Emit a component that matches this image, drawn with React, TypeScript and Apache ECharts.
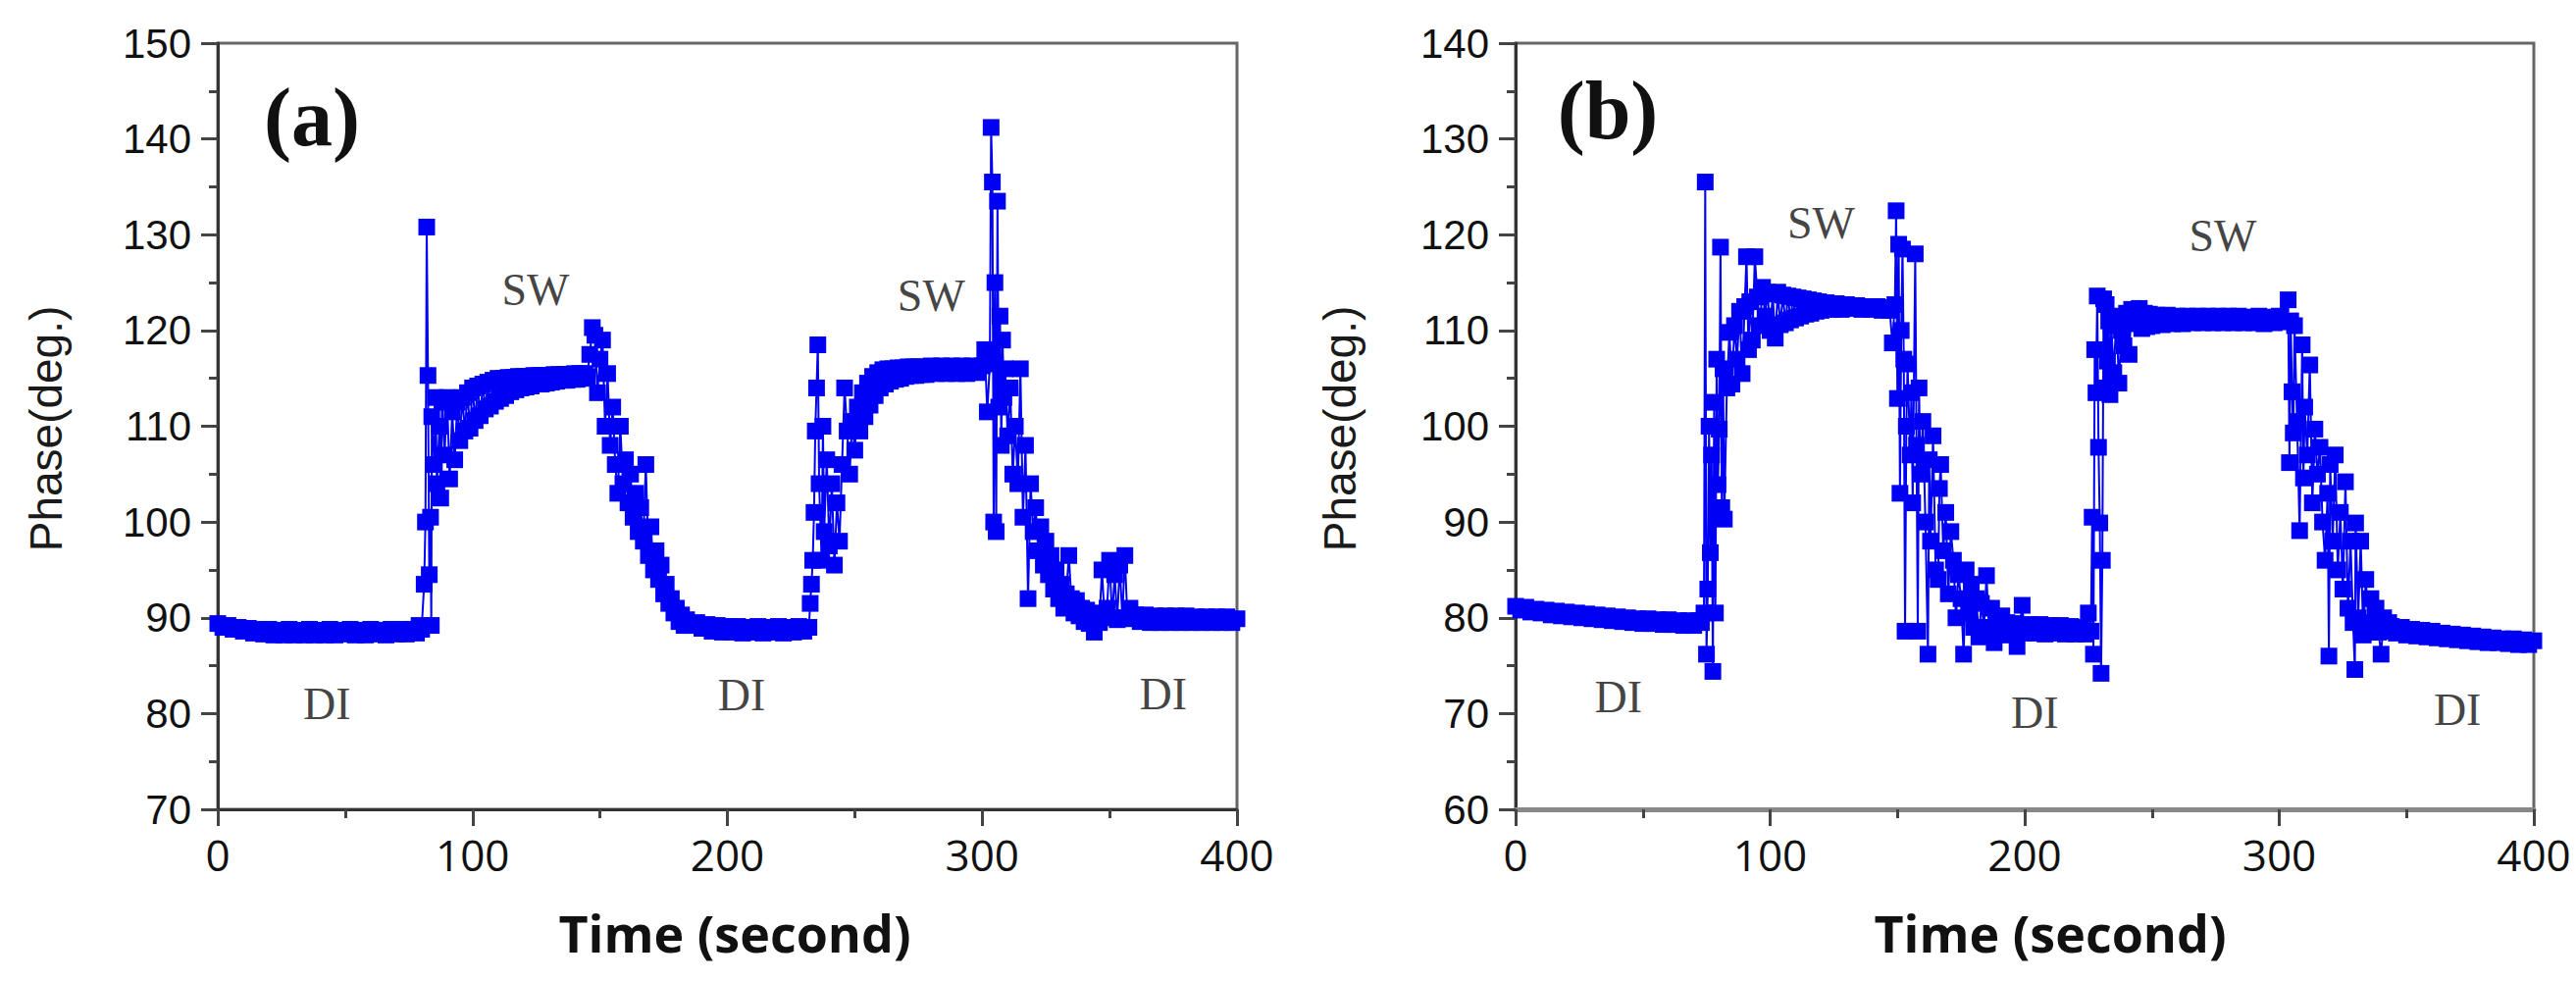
import React, { useEffect, useRef } from "react";
import * as echarts from "echarts";

// ---------------- Panel (a) data: [time (s), phase (deg.)] ----------------
const A_DI1: number[][] = [
  [0, 89.4], [2, 89.0], [4, 89.2], [6, 88.8], [8, 89.0], [10, 88.6], [12, 88.9], [14, 88.4], [16, 88.8], [18, 88.3],
  [20, 88.8], [22, 88.2], [24, 88.7], [26, 88.2], [28, 88.8], [30, 88.2], [32, 88.7], [34, 88.2], [36, 88.8], [38, 88.2],
  [40, 88.7], [42, 88.2], [44, 88.8], [46, 88.2], [48, 88.7], [50, 88.3], [52, 88.8], [54, 88.2], [56, 88.7], [58, 88.2],
  [60, 88.8], [62, 88.3], [64, 88.7], [66, 88.2], [68, 88.8], [70, 88.3], [72, 88.8], [74, 88.3], [76, 88.8], [78, 88.4],
  [79, 89.2],
];
const A_SW1: number[][] = [
  [80, 88.8], [81, 93.5], [81.5, 100], [82, 130.8], [82.5, 115.3], [83, 94.5], [83.5, 100.5], [83.8, 89.2], [84, 111],
  [85, 106], [85.5, 113], [86, 104], [87, 110], [87.5, 102.5], [88, 112.5], [89, 107], [90, 113], [91, 104.5],
  [92, 111.5], [93, 106.5], [94, 112.5], [95, 108.5], [96, 113], [97, 109.5],
  [98, 113.5], [99, 109.8], [100, 114], [101, 110.6], [102, 114.2], [103, 111.1], [104, 114.4], [105, 111.8],
  [106, 114.6], [107, 112.1], [108, 114.8], [109, 112.6], [110, 115], [111, 112.9], [112, 115], [113, 113.2],
  [114, 115.1], [115, 113.6], [116, 115.1], [117, 113.8], [118, 115.2], [119, 114], [120, 115.2], [121, 114.1],
  [122, 115.2], [123, 114.2], [124, 115.3], [125, 114.4], [126, 115.3], [127, 114.4], [128, 115.3], [129, 114.5],
  [130, 115.3], [131, 114.6], [132, 115.4], [133, 114.7], [134, 115.4], [135, 114.8], [136, 115.4], [137, 114.8],
  [138, 115.4], [139, 114.9], [140, 115.5], [141, 114.9], [142, 115.5], [143, 115], [144, 115.5], [145, 115.2],
  [146, 117.5], [147, 120.3], [148, 119.5], [149, 113.5], [150, 117], [151, 119], [152, 110], [153, 115.5], [154, 108],
  [155, 112], [156, 106], [157, 103], [158, 110], [159, 104], [160, 106.5], [161, 102], [162, 105], [163, 100.5],
  [164, 103], [165, 99], [166, 101.5], [167, 98], [168, 106], [169, 96.5], [170, 99.5], [171, 95], [172, 97], [173, 94],
  [174, 95.5], [175, 92.5], [176, 93.5], [177, 91.5], [178, 92], [179, 90.5], [180, 91], [181, 89.6], [182, 90.3],
  [183, 89.2], [184, 89.8], [186, 89.2], [188, 89.5], [190, 88.9],
];
const A_DI2: number[][] = [
  [192, 89.3], [194, 88.6], [196, 89.2], [198, 88.5], [200, 89.1], [202, 88.5], [204, 89.1], [206, 88.4], [208, 89.0],
  [210, 88.5], [212, 89.1], [214, 88.4], [216, 89.0], [218, 88.5], [220, 89.1], [222, 88.4], [224, 89.0], [226, 88.5],
  [228, 89.1], [230, 88.6],
];
const A_SW2: number[][] = [
  [232, 89.0], [232.5, 91.5], [233, 93.5], [233.5, 96], [234, 101], [234.5, 109.5], [235, 114], [235.5, 118.5],
  [236, 104], [237, 96], [237.5, 110], [238, 99], [239, 106.5], [240, 97.5], [241, 104], [242, 95.5], [243, 102],
  [244, 98], [245, 106], [246, 114], [247, 109.5], [248, 105], [249, 110.5], [250, 107.5], [251, 112], [252, 109.5],
  [253, 113.5], [254, 111], [255, 114.5], [256, 112.2], [257, 115.2], [258, 113.2], [259, 115.6], [260, 114],
  [261, 115.9], [262, 114.4], [263, 116], [264, 114.7], [265, 116], [266, 114.9], [267, 116.1], [268, 115],
  [269, 116.1], [270, 115.2], [271, 116.2], [272, 115.3], [273, 116.2], [274, 115.3], [275, 116.2], [276, 115.4],
  [277, 116.2], [278, 115.4], [280, 116.3], [282, 115.5], [284, 116.3], [286, 115.5], [288, 116.3], [290, 115.5],
  [292, 116.3], [294, 115.5], [296, 116.3], [298, 115.6], [300, 116.3], [301, 118],
  [302, 111.5], [303, 116.5], [303.5, 141.2], [304, 135.5], [304.5, 100], [305, 125], [305.5, 99], [306, 133.5],
  [306.5, 112], [307, 121.5], [307.5, 108], [308, 119], [308.5, 113], [309, 116], [310, 109], [311, 114], [312, 105],
  [313, 110], [314, 104], [315, 116], [316, 100.5], [317, 108], [318, 92], [319, 104], [320, 99], [321, 101.5],
  [322, 97], [323, 99.5], [324, 95.5], [325, 98], [326, 94.5], [327, 96.5], [328, 93], [329, 95], [330, 92],
  [331, 93.5], [332, 91], [333, 92.5], [334, 96.5], [335, 92], [336, 90.5], [337, 91.8], [338, 90.2], [339, 91],
  [340, 89.6], [341, 90.8], [342, 89.4], [343, 90.4], [344, 88.5], [345, 90.5], [346, 89.5], [347, 95], [348, 90.2],
  [349, 91], [350, 96], [351, 90], [352, 94.5], [353, 89.8], [354, 95.5], [355, 90], [356, 96.5], [357, 89.9],
  [358, 91],
];
const A_DI3: number[][] = [
  [360, 90.3], [362, 89.6], [364, 90.3], [366, 89.5], [368, 90.2], [370, 89.5], [372, 90.2], [374, 89.5], [376, 90.2],
  [378, 89.5], [380, 90.2], [382, 89.5], [384, 90.1], [386, 89.5], [388, 90.1], [390, 89.5], [392, 90.1], [394, 89.5],
  [396, 90.1], [398, 89.5], [400, 89.9],
];

// ---------------- Panel (b) data: [time (s), phase (deg.)] ----------------
const B_DI1: number[][] = [
  [0, 81.2], [2, 80.8], [4, 81.1], [6, 80.6], [8, 80.9], [10, 80.5], [12, 80.8], [14, 80.3], [16, 80.7], [18, 80.2],
  [20, 80.6], [22, 80.1], [24, 80.5], [26, 80.0], [28, 80.4], [30, 79.9], [32, 80.3], [34, 79.8], [36, 80.2], [38, 79.7],
  [40, 80.1], [42, 79.6], [44, 80.0], [46, 79.5], [48, 79.9], [50, 79.4], [52, 79.9], [54, 79.4], [56, 79.8], [58, 79.3],
  [60, 79.8], [62, 79.3], [64, 79.7], [66, 79.2], [68, 79.7], [70, 79.2], [72, 79.7], [73, 79.5],
];
const B_SW1: number[][] = [
  [74, 80.5], [74.5, 125.5], [75, 76.2], [75.5, 83], [76, 100], [76.5, 86.8], [77, 97], [77.5, 74.4], [78, 102.5],
  [78.5, 80.5], [79, 107], [79.5, 93.9], [80, 99.7], [80.5, 118.7], [81, 91.5], [81.5, 106], [82, 90.3], [83, 104],
  [84, 109.8], [85, 104.4], [86, 110.5], [87, 107], [88, 112], [89, 105.5], [90, 112.5], [90.7, 117.7], [91.5, 108],
  [92, 113], [93, 109], [94, 117.7], [95, 113.5], [96, 110.5], [97, 114.5], [98, 111.5], [99, 114], [100, 110],
  [101, 113.8], [102, 109.2], [103, 114], [104, 110.6], [105, 113.7], [106, 110.8], [107, 113.6], [108, 111.1],
  [109, 113.5], [110, 111.3], [111, 113.4], [112, 111.5], [113, 113.3], [114, 111.7], [115, 113.2], [116, 111.8],
  [117, 113.1], [118, 112], [119, 113], [120, 112.1], [122, 112.9], [124, 112.2], [126, 112.8], [128, 112.2],
  [130, 112.7], [132, 112.3], [134, 112.6], [136, 112.2], [138, 112.5], [140, 112.2], [142, 112.5], [144, 112.1],
  [146, 112.4], [147, 112.1], [148, 108.7], [149, 112.7], [149.5, 122.5], [150, 102.9], [150.5, 119], [151, 93],
  [151.5, 110], [152, 118.5], [152.5, 107], [153, 78.6], [153.5, 100], [154, 106.5], [155, 97], [155.5, 103.5],
  [156, 92], [157, 118], [157.5, 98], [158, 78.6], [158.5, 104], [159, 95], [160, 100.5], [161, 90], [162, 76.2],
  [162.5, 96.5], [163, 88], [164, 99], [165, 85], [166, 84], [166.5, 93.5], [167, 96], [168, 87], [169, 91],
  [170, 82.5], [171, 89], [172, 86], [173, 80], [174, 84.5], [175, 82], [176, 76.2], [177, 85], [178, 80.5],
  [179, 83.5], [180, 79], [181, 82], [182, 78], [183, 81.5], [184, 79], [185, 84.4], [186, 78.5], [187, 81],
  [188, 77.4], [189, 80], [190, 78.3], [191, 80.2], [192, 78.5], [193, 79.5], [194, 78.2],
];
const B_DI2: number[][] = [
  [196, 79.4], [197, 77], [198, 79], [199, 81.3], [200, 78.4], [202, 79.3], [204, 78.4], [206, 79.3], [208, 78.3],
  [210, 79.2], [212, 78.4], [214, 79.2], [216, 78.3], [218, 79.1], [220, 78.3], [222, 79.0], [224, 78.3], [225, 80.5],
  [226, 78.6],
];
const B_SW2: number[][] = [
  [226.5, 90.5], [227, 76.2], [227.5, 108], [228, 103.5], [228.5, 113.6], [229, 97.8], [229.5, 89.9], [230, 74.2],
  [230.5, 86], [231, 113.3], [231.5, 104], [232, 112.7], [232.5, 106.8], [233, 111], [233.5, 103.3], [234, 110.5],
  [235, 105.6], [236, 111.5], [237, 104.5], [238, 110], [239, 108.4], [240, 111.8], [241, 107.5], [242, 112.2],
  [243, 110.7], [244, 111.5], [245, 112.3], [246, 110.2], [247, 111.8], [248, 110.4], [249, 111.7], [250, 110.5],
  [252, 111.6], [254, 110.6], [256, 111.6], [258, 110.7], [260, 111.5], [262, 110.7], [264, 111.5], [266, 110.8],
  [268, 111.5], [270, 110.8], [272, 111.5], [274, 110.8], [276, 111.5], [278, 110.8], [280, 111.5], [282, 110.8],
  [284, 111.5], [286, 110.8], [288, 111.4], [290, 110.8], [292, 111.5], [294, 110.7], [296, 111.4], [298, 110.8],
  [300, 111.5], [302, 110.9], [303.5, 113.2],
  [304, 96.2], [304.5, 111], [305, 103.6], [305.5, 99.3], [306, 110.5], [307, 100.5], [308, 89.1], [309, 108.5],
  [309.5, 94.6], [310, 102], [311, 97], [312, 106.4], [313, 92], [314, 99.7], [315, 95], [316, 97.8], [317, 90],
  [318, 86], [319, 93], [319.5, 76], [320, 96], [321, 88], [322, 97], [323, 85], [324, 91], [325, 83], [326, 94.2],
  [327, 81], [328, 88], [329, 79.5], [329.7, 74.6], [330, 89.9], [331, 80], [332, 88], [333, 78.2], [334, 84],
  [335, 79.5], [336, 82], [337, 78.5], [338, 81], [339, 78.5], [340, 76.2], [341, 80], [342, 78.6], [343, 79.5],
];
const B_DI3: number[][] = [
  [344, 79.1], [346, 78.4], [348, 79.0], [350, 78.2], [352, 78.8], [354, 78.1], [356, 78.7], [358, 78.0], [360, 78.6],
  [362, 77.9], [364, 78.4], [366, 77.8], [368, 78.3], [370, 77.7], [372, 78.2], [374, 77.6], [376, 78.1], [378, 77.5],
  [380, 78.0], [382, 77.4], [384, 77.9], [386, 77.4], [388, 77.8], [390, 77.3], [392, 77.8], [394, 77.2], [396, 77.7],
  [398, 77.2], [400, 77.6],
];

// ---------------- Annotations (data coordinates) ----------------
const A_NOTES = [
  { name: "SW", value: [124.7, 124.2] },
  { name: "SW", value: [280, 123.6] },
  { name: "DI", value: [42.8, 81.0] },
  { name: "DI", value: [205.6, 81.9] },
  { name: "DI", value: [371, 82.0] },
];
const B_NOTES = [
  { name: "SW", value: [120, 121.2] },
  { name: "SW", value: [277.8, 119.9] },
  { name: "DI", value: [40.4, 71.7] },
  { name: "DI", value: [204, 70.1] },
  { name: "DI", value: [370, 70.4] },
];

// ---------------- Axes ----------------
const X_RANGE = { min: 0, max: 400, interval: 100 };
const A_Y_RANGE = { min: 70, max: 150, interval: 10 };
const B_Y_RANGE = { min: 60, max: 140, interval: 10 };
const PANEL_TAGS = ["(a)", "(b)"];
const Y_TITLE = "Phase(deg.)";
const X_TITLE = "Time (second)";

const BLUE = "#0000f5";

export default function App() {
  const ref = useRef<HTMLDivElement>(null);

  useEffect(() => {
    if (!ref.current) return;
    const chart = echarts.init(ref.current, undefined, { renderer: "svg" });

    const xAxis = (gi: number, lineColor: string, lineWidth: number) => ({
      gridIndex: gi,
      type: "value",
      ...X_RANGE,
      axisLine: { show: true, onZero: false, lineStyle: { color: lineColor, width: lineWidth } },
      axisTick: { show: true, inside: false, length: 17, lineStyle: { color: "#444", width: 3 } },
      minorTick: { show: true, splitNumber: 2, length: 9, lineStyle: { color: "#444", width: 3 } },
      splitLine: { show: false },
      minorSplitLine: { show: false },
      axisLabel: {
        margin: 24,
        fontFamily: "Open Sans",
        fontSize: 44,
        color: "#111",
        showMinLabel: true,
        showMaxLabel: true,
      },
    });
    const yAxis = (gi: number, range: any) => ({
      gridIndex: gi,
      type: "value",
      ...range,
      axisLine: { show: true, onZero: false, lineStyle: { color: "#333", width: 3 } },
      axisTick: { show: true, inside: false, length: 17, lineStyle: { color: "#444", width: 3 } },
      minorTick: { show: true, splitNumber: 2, length: 9, lineStyle: { color: "#444", width: 3 } },
      splitLine: { show: false },
      minorSplitLine: { show: false },
      axisLabel: {
        margin: 27,
        fontFamily: "Liberation Sans",
        fontSize: 42,
        color: "#111",
        showMinLabel: true,
        showMaxLabel: true,
      },
    });

    const dataSeries = (gi: number, data: number[][]) => ({
      type: "line",
      xAxisIndex: gi,
      yAxisIndex: gi,
      data,
      symbol: "rect",
      symbolSize: 17,
      showAllSymbol: true,
      clip: true,
      lineStyle: { color: BLUE, width: 2 },
      itemStyle: { color: BLUE },
      silent: true,
      z: 3,
    });
    const noteSeries = (gi: number, data: any[]) => ({
      type: "scatter",
      xAxisIndex: gi,
      yAxisIndex: gi,
      data,
      symbolSize: 2,
      itemStyle: { color: "rgba(0,0,0,0)" },
      silent: true,
      z: 5,
      label: {
        show: true,
        position: "inside",
        formatter: "{b}",
        fontFamily: "Liberation Serif",
        fontSize: 46,
        color: "#111",
      },
    });

    const gridCommon = {
      show: true,
      borderColor: "#666",
      borderWidth: 3,
      backgroundColor: "transparent",
      containLabel: false,
    };

    const textAt = (x: number, y: number, text: string, font: string, fill: string, rotation = 0) => ({
      type: "text",
      x,
      y,
      rotation,
      style: { text, font, fill, textAlign: "center", textVerticalAlign: "middle" },
    });

    const option: any = {
      animation: false,
      backgroundColor: "#ffffff",
      grid: [
        { ...gridCommon, left: 222, top: 44, width: 1039, height: 781 },
        { ...gridCommon, left: 1545, top: 44, width: 1038, height: 781 },
      ],
      xAxis: [xAxis(0, "#333", 3), xAxis(1, "#888", 5)],
      yAxis: [yAxis(0, A_Y_RANGE), yAxis(1, B_Y_RANGE)],
      series: [
        dataSeries(0, [...A_DI1, ...A_SW1, ...A_DI2, ...A_SW2, ...A_DI3]),
        dataSeries(1, [...B_DI1, ...B_SW1, ...B_DI2, ...B_SW2, ...B_DI3]),
        noteSeries(0, A_NOTES),
        noteSeries(1, B_NOTES),
      ],
      graphic: [
        textAt(318, 119, PANEL_TAGS[0], 'bold 84px "Liberation Serif"', "#111"),
        textAt(1639, 112, PANEL_TAGS[1], 'bold 84px "Liberation Serif"', "#111"),
        textAt(47, 437, Y_TITLE, '46px "Liberation Sans"', "#1a1a1a", Math.PI / 2),
        textAt(1366, 437, Y_TITLE, '46px "Liberation Sans"', "#1a1a1a", Math.PI / 2),
        textAt(749, 950, X_TITLE, 'bold 52px "Open Sans"', "#111"),
        textAt(2090, 950, X_TITLE, 'bold 52px "Open Sans"', "#111"),
      ],
    };

    chart.setOption(option);
    return () => chart.dispose();
  }, []);

  return (
    <div
      ref={ref}
      style={{ position: "absolute", left: 0, top: 0, width: 2626, height: 1000, background: "#fff" }}
    />
  );
}
